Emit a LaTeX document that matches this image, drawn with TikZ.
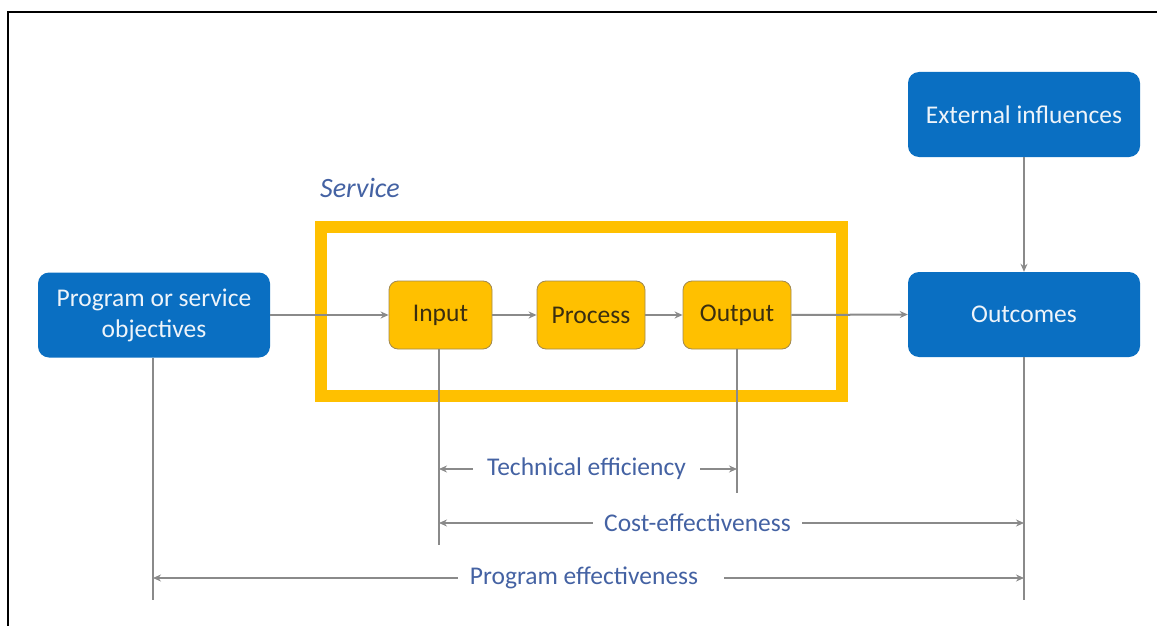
\documentclass[tikz,border=0pt]{standalone}
\usepackage{fontspec}
\setmainfont{Carlito}
\usetikzlibrary{arrows.meta,calc}
\definecolor{boxblue}{HTML}{0A6FC2}
\definecolor{svcorange}{HTML}{FFC000}
\definecolor{linegray}{HTML}{8A8A8A}
\definecolor{labelblue}{HTML}{4462A3}
\definecolor{darktext}{HTML}{3A2E10}
\definecolor{orangeedge}{HTML}{A08850}
\definecolor{boxtext}{HTML}{EEF4FA}
\tikzset{
  bluebox/.style={fill=boxblue, draw=none, rounded corners=11pt, text=boxtext,
    minimum width=232pt, minimum height=85pt, align=center, font=\fontsize{25.5}{31}\selectfont},
  orangebox/.style={fill=svcorange, draw=orangeedge, line width=0.8pt, rounded corners=9pt, text=darktext,
    minimum height=68pt, align=center, font=\fontsize{25.5}{31}\selectfont},
  conn/.style={draw=linegray, line width=2pt, -{Stealth[length=8pt,width=7pt]}},
  plainline/.style={draw=linegray, line width=2pt},
  dimlabel/.style={text=labelblue, font=\fontsize{25.5}{31}\selectfont, inner xsep=13pt, inner ysep=0pt},
}
\begin{document}
\begin{tikzpicture}[x=1pt,y=-1pt]
\useasboundingbox (0,0) rectangle (1157,626);
% outer frame (top and left)
\draw[line width=2.5pt, black] (1160,12) -- (8,12) -- (8,630);
% service frame
\draw[svcorange, line width=12pt] (321,227) rectangle (842,396);
\node[text=labelblue, font=\fontsize{28}{32}\selectfont\itshape, anchor=west, inner xsep=0pt] (svc) at (320,188) {Service};
% boxes
\node[bluebox] (prog) at (154,315) {Program or service\\objectives};
\node[bluebox] (ext) at (1024,114.5) {External influences};
\node[bluebox] (outc) at (1024,314.5) {Outcomes};
\node[orangebox, minimum width=103pt] (inp) at (440.5,315) {Input};
\node[orangebox, minimum width=108pt] (proc) at (591,315) {Process};
\node[orangebox, minimum width=108pt] (outp) at (737,315) {Output};
% flow connectors
\draw[conn] (prog.east) -- (inp.west);
\draw[conn] (inp.east) -- (proc.west);
\draw[conn] (proc.east) -- (outp.west);
\draw[conn] (outp.east) -- (outc.west);
\draw[conn] (ext.south) -- (outc.south |- outc.north);
% vertical reference lines
\coordinate (progB) at (153,600);
\coordinate (inpB) at (439,545);
\coordinate (outpB) at (737,493);
\coordinate (outcB) at (1024,600);
\draw[plainline] (prog.south -| progB) -- (progB);
\draw[plainline] (inp.south -| inpB) -- (inpB);
\draw[plainline] (outp.south) -- (outpB);
\draw[plainline] (outc.south) -- (outcB);
% dimension labels
\node[dimlabel, inner xsep=14pt] (tech) at (586.5,469) {Technical efficiency};
\node[dimlabel, inner xsep=11pt] (cost) at (697.5,523) {Cost-effectiveness};
\node[dimlabel, inner xsep=12pt] (peff) at (584,578) {Program effectiveness};
\draw[conn] (tech.west) -- (tech.west -| inpB);
\draw[conn] (tech.east) -- (tech.east -| outpB);
\draw[conn] (cost.west) -- (cost.west -| inpB);
\draw[conn] (cost.east) -- (cost.east -| outcB);
\draw[conn] (peff.west) -- (peff.west -| progB);
\draw[conn] ([xshift=14pt]peff.east) -- (peff.east -| outcB);
\end{tikzpicture}
\end{document}
